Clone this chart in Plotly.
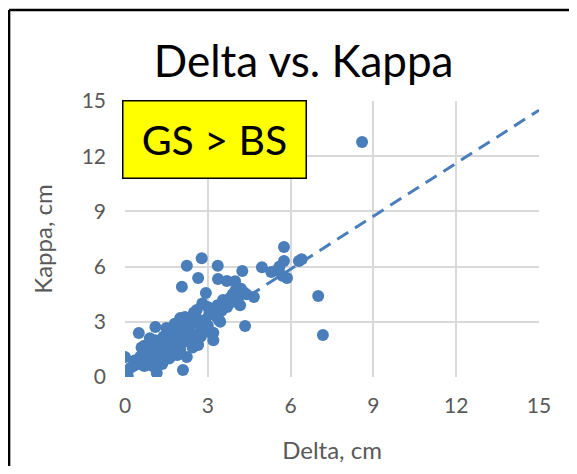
import plotly.graph_objects as go

# Data
delta = [0.0, 0.05, 0.1, 0.0, 0.3, 0.4, 0.5, 0.6, 0.7, 0.8, 0.9, 1.0, 0.6, 0.7, 0.5,
         1.1, 1.5, 1.15, 1.2, 1.3, 1.4, 1.2, 1.5, 1.6, 1.7, 1.8, 1.6, 1.4, 1.3, 1.0,
         0.9, 1.1, 1.9, 2.0, 2.1, 2.2, 1.9, 2.0, 2.3, 2.4, 2.5, 2.24, 2.1, 2.3, 2.0,
         2.17, 2.5, 2.6, 2.7, 2.8, 2.9, 3.0, 2.65, 2.5, 3.1, 3.2, 3.3, 3.4, 3.5, 3.6,
         3.55, 3.8, 3.9, 4.0, 4.1, 4.2, 4.3, 4.17, 4.0, 3.7, 4.4, 4.67, 4.35, 3.0, 2.8,
         2.93, 2.6, 1.8, 1.7, 1.5, 0.8, 0.9, 0.2, 0.35, 0.55, 0.65, 1.05, 1.25, 1.45, 1.65,
         1.85, 2.05, 2.35, 2.45, 2.75, 3.05, 3.25, 3.45, 3.2, 3.35, 1.0, 1.35, 1.75, 2.15, 0.75,
         2.06, 2.65, 2.78, 2.24, 3.36, 3.37, 3.69, 3.99, 4.25, 4.96, 5.3, 5.5, 5.6, 5.76, 5.76,
         5.87, 5.7, 6.3, 6.4, 7.0, 7.17, 8.59, 3.9, 4.1, 3.75]
kappa = [0.1, 0.3, 0.05, 1.09, 0.6, 0.8, 0.7, 0.9, 0.6, 1.0, 0.8, 1.2, 1.6, 1.7, 2.39,
         2.72, 2.66, 0.22, 0.9, 1.1, 1.4, 1.6, 1.2, 1.0, 1.5, 1.8, 2.0, 2.2, 1.9, 1.5,
         1.3, 2.0, 1.2, 1.5, 1.9, 2.2, 2.4, 2.7, 2.5, 2.0, 1.8, 1.09, 0.38, 3.0, 3.2,
         3.26, 3.5, 3.64, 2.9, 2.6, 3.1, 2.8, 1.74, 2.3, 2.4, 2.0, 3.3, 3.1, 3.6, 3.9,
         4.18, 4.3, 4.5, 4.7, 4.4, 4.8, 4.6, 3.9, 4.1, 3.8, 4.5, 4.35, 2.77, 3.8, 4.0,
         4.57, 3.2, 2.9, 2.5, 2.1, 1.4, 2.1, 0.5, 0.9, 1.1, 1.0, 1.7, 1.3, 1.8, 2.3,
         2.1, 2.4, 2.8, 1.6, 2.2, 3.4, 3.6, 3.0, 2.4, 3.9, 0.6, 0.7, 1.2, 2.9, 1.2,
         4.9, 5.38, 6.45, 6.04, 6.04, 5.32, 5.22, 5.2, 5.76, 5.97, 5.7, 5.8, 6.0, 6.3, 7.07,
         5.38, 5.5, 6.3, 6.4, 4.4, 2.28, 12.77, 4.2, 4.3, 4.0]

# Trendline end points
trend_x = [0.0, 15.0]
trend_y = [0.1, 14.5]

ticks = [0, 3, 6, 9, 12, 15]

blue = "#4A7EBB"
gray = "#595959"
font = "Lato"

fig = go.Figure()
fig.add_trace(go.Scatter(x=trend_x, y=trend_y, mode="lines",
                         line=dict(color=blue, width=3, dash="13px,8px"),
                         hoverinfo="skip", showlegend=False))
fig.add_trace(go.Scatter(x=delta, y=kappa, mode="markers",
                         marker=dict(color=blue, size=12, line=dict(width=0)),
                         showlegend=False))

axis_common = dict(range=[0, 15], tickvals=ticks, ticktext=[str(t) for t in ticks],
                   showgrid=True, gridcolor="#D9D9D9", gridwidth=2,
                   zeroline=False, showline=False, automargin=False,
                   tickfont=dict(family=font, size=21, color=gray),
                   ticks="", fixedrange=True)

fig.update_layout(
    width=561, height=458,
    margin=dict(l=117, r=30, t=93, b=89),
    paper_bgcolor="white", plot_bgcolor="white",
    title=dict(text="Delta vs. Kappa", x=0.527, xanchor="center", y=0.882, yanchor="middle",
               font=dict(family=font, size=44, color="black")),
    xaxis=dict(**axis_common, ticklabelstandoff=14,
               title=dict(text="Delta, cm", font=dict(family=font, size=24, color=gray), standoff=26)),
    yaxis=dict(**axis_common, ticklabelstandoff=18,
               title=dict(text="Kappa, cm", font=dict(family=font, size=24, color=gray), standoff=22)),
)

# outer chart border (left and top edges visible in the crop)
border = dict(color="black", width=2.5)
fig.add_shape(type="line", xref="paper", yref="paper",
              x0=-0.28, x1=-0.28, y0=-0.5, y1=1.33, line=border, layer="above")
fig.add_shape(type="line", xref="paper", yref="paper",
              x0=-0.28, x1=1.2, y0=1.33, y1=1.33, line=border, layer="above")

# yellow label box
fig.add_annotation(xref="paper", yref="paper", x=0.217, y=0.862,
                   text="GS > BS", showarrow=False,
                   font=dict(family=font, size=41, color="black"),
                   bgcolor="#FFFF00", bordercolor="black", borderwidth=1.5,
                   width=180, height=74, xanchor="center", yanchor="middle")

fig.write_html("out.html")
